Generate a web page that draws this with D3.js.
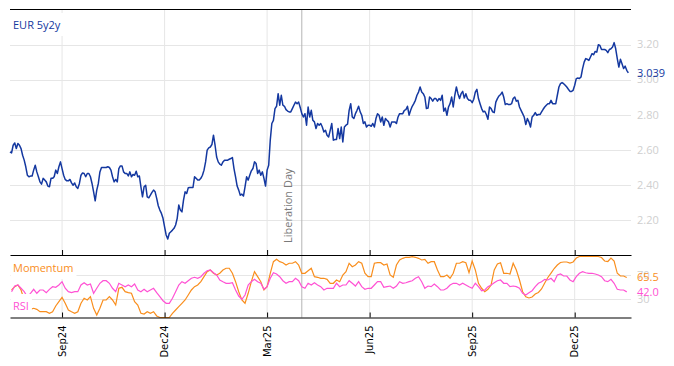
<!DOCTYPE html>
<html>
<head>
<meta charset="utf-8">
<script src="https://cdn.jsdelivr.net/npm/d3@7"></script>
<style>
  html, body { margin: 0; padding: 0; background: #fff; }
  svg { display: block; font-family: "Open Sans", sans-serif; }
</style>
</head>
<body>
<svg id="chart" width="674" height="366"></svg>
<script>
// data: one value per weekday from startDate (oscillators: every second weekday)
const startDate = '2024-07-17';

const eur5y2y = [
  2.588,
  2.582, 2.626, 2.639, 2.607, 2.636, 2.626, 2.607, 2.569, 2.541, 2.503, 2.455, 2.446, 2.450, 2.450, 2.484, 2.512, 2.474, 2.446, 2.417, 2.404,
  2.437, 2.427, 2.417, 2.393, 2.389, 2.437, 2.437, 2.446, 2.484, 2.465, 2.503, 2.531, 2.493, 2.455, 2.431, 2.423, 2.423, 2.431, 2.411, 2.398,
  2.411, 2.389, 2.380, 2.408, 2.455, 2.468, 2.465, 2.446, 2.465, 2.465, 2.446, 2.408, 2.360, 2.309, 2.370, 2.408, 2.474, 2.499, 2.499, 2.499,
  2.499, 2.503, 2.499, 2.484, 2.446, 2.417, 2.431,
  2.417, 2.493, 2.508, 2.508, 2.474, 2.465, 2.465, 2.451, 2.474, 2.446, 2.459, 2.455, 2.478, 2.446, 2.451, 2.389, 2.332, 2.389, 2.398, 2.332,
  2.326, 2.341, 2.357, 2.370, 2.360, 2.323, 2.281, 2.256, 2.237, 2.209, 2.161, 2.114, 2.091, 2.124, 2.133, 2.142, 2.152, 2.171, 2.209, 2.285,
  2.256, 2.246, 2.313, 2.360, 2.351, 2.383, 2.385, 2.385, 2.385, 2.446, 2.437, 2.427, 2.427, 2.437, 2.455, 2.484, 2.531, 2.598, 2.611, 2.616,
  2.630, 2.683, 2.626, 2.559, 2.531,
  2.518, 2.512, 2.531, 2.541, 2.541, 2.541, 2.546, 2.550, 2.556, 2.493, 2.446, 2.393, 2.370, 2.341, 2.347, 2.336, 2.389, 2.446, 2.427, 2.455,
  2.480, 2.493, 2.531, 2.522, 2.465, 2.484, 2.455, 2.474, 2.437, 2.393, 2.484, 2.512, 2.655, 2.750, 2.768, 2.835, 2.848, 2.920, 2.854, 2.911,
  2.854, 2.848, 2.829, 2.821, 2.816, 2.816, 2.835, 2.854, 2.872, 2.863, 2.872, 2.841, 2.806, 2.787, 2.806, 2.740, 2.844, 2.787, 2.825, 2.768,
  2.759, 2.721, 2.750, 2.740, 2.750, 2.730,
  2.702, 2.711, 2.683, 2.673, 2.711, 2.750, 2.655, 2.659, 2.659, 2.721, 2.664, 2.730, 2.645, 2.730, 2.740, 2.746, 2.825, 2.863, 2.787, 2.778,
  2.806, 2.825, 2.848, 2.816, 2.797, 2.750, 2.759, 2.730, 2.740, 2.740, 2.734, 2.750, 2.730, 2.778, 2.806, 2.797, 2.759, 2.787, 2.740, 2.778,
  2.768, 2.759, 2.730, 2.759, 2.759, 2.759, 2.750, 2.787, 2.806, 2.806, 2.806, 2.825, 2.829, 2.848, 2.797, 2.825, 2.848, 2.863, 2.882, 2.911,
  2.929, 2.958, 2.929, 2.920, 2.901, 2.835,
  2.838, 2.901, 2.892, 2.877, 2.892, 2.892, 2.877, 2.892, 2.882, 2.911, 2.820, 2.838, 2.797, 2.844, 2.863, 2.901, 2.844, 2.911, 2.958, 2.920,
  2.892, 2.920, 2.933, 2.895, 2.920, 2.892, 2.882, 2.882, 2.869, 2.888, 2.929, 2.945, 2.892, 2.863, 2.835, 2.816, 2.820, 2.801, 2.774, 2.844,
  2.835, 2.816, 2.812, 2.872, 2.892, 2.907, 2.915, 2.929, 2.901, 2.858, 2.863, 2.858, 2.858, 2.863, 2.892, 2.901, 2.877, 2.882, 2.844, 2.825,
  2.806, 2.787, 2.744, 2.778, 2.759, 2.730,
  2.787, 2.797, 2.812, 2.797, 2.801, 2.801, 2.816, 2.831, 2.844, 2.854, 2.863, 2.863, 2.882, 2.863, 2.863, 2.863, 2.911, 2.958, 2.977, 2.983,
  2.977, 2.968, 2.958, 2.945, 2.933, 2.933, 2.939, 2.968, 3.006, 3.009, 3.006, 3.015, 3.063, 3.100, 3.120, 3.116, 3.110, 3.129, 3.148, 3.142,
  3.161, 3.157, 3.199, 3.195, 3.172, 3.172, 3.172, 3.167, 3.154, 3.172, 3.176, 3.186, 3.211, 3.176, 3.120, 3.072, 3.116, 3.091, 3.063, 3.077,
  3.053, 3.039
];

const momentum = [
  45.1, 50.5, 53.3, 45.1, 28.7, 15.1, 13.4, 15.1, 13.4, 9.5, 9.5, 9.5, 6.9, 9.5, 18.9, 25.9, 33.0, 23.3, 12.3, 9.5,
  6.9, 9.5, 23.3, 31.5, 28.7, 34.1, 15.1, 4.1, 15.1, 28.7, 28.7, 34.1, 28.7, 20.5, 47.9, 49.5, 42.3, 40.7, 39.7, 25.9,
  20.5, 6.9, 5.7, 9.5, 6.9, 9.5, 2.5, 0, 0, 0, 0, 6.9, 12.3, 17.7, 23.3, 28.7, 36.9, 45.1, 50.5, 53.3,
  58.7, 66.9, 75.1, 77.9, 72.5, 69.7, 72.5, 77.9, 80.7, 80.7, 72.5, 58.7, 42.3, 28.7, 23.3, 39.7, 58.7, 75.1, 66.9, 58.7,
  45.1, 50.5, 72.5, 91.5, 95.4, 91.5, 89.8, 86.1, 88.9, 88.9, 91.5, 86.1, 72.5, 72.5, 76.7, 80.7, 66.9, 65.9, 64.3, 64.3,
  62.6,
  56.1, 56.1, 61.5, 58.7, 69.7, 75.1, 88.9, 83.3, 86.1, 91.5, 88.9, 72.5, 66.9, 66.9, 88.9, 89.8, 89.8, 86.1, 87.7, 69.7,
  65.9, 86.1, 94.3, 97.0, 98.7, 98.7, 99.7, 98.7, 97.0, 94.3, 95.4, 88.9, 91.5, 91.5, 77.9, 66.9, 66.9, 69.7, 64.3, 72.5,
  88.9, 88.9, 91.5, 89.8, 73.4, 92.6, 77.9, 56.1, 47.9, 42.3, 46.2, 53.3, 77.9, 87.7, 89.8, 72.5, 72.5, 71.3, 88.9, 77.9,
  61.5, 42.3, 34.1, 32.0, 33.6, 38.5, 41.0, 46.7, 56.6, 65.6, 72.9, 80.3, 86.1, 90.2, 91.0, 91.0, 89.3, 91.0, 97.5, 100,
  100, 100, 100, 100, 100, 100, 98.4, 92.6, 91.8, 97.5, 92.6, 72.5, 68.0, 68.0, 65.5
];

const rsi = [
  42.3, 51.6, 53.3, 47.9, 42.3, 34.1, 39.7, 46.2, 39.7, 45.1, 45.1, 40.7, 46.2, 50.5, 49.5, 53.3, 58.7, 47.9, 42.3, 40.7,
  42.3, 42.3, 53.3, 57.0, 53.3, 54.9, 39.7, 47.9, 56.1, 60.3, 60.3, 56.1, 47.9, 42.3, 56.1, 53.3, 50.5, 53.3, 50.5, 54.9,
  45.1, 42.3, 46.2, 42.3, 45.1, 47.9, 40.7, 34.1, 27.5, 23.3, 23.3, 31.5, 42.3, 53.3, 58.7, 56.1, 60.3, 64.3, 65.9, 64.3,
  66.9, 72.5, 76.7, 77.9, 73.4, 69.7, 61.5, 58.7, 56.1, 56.1, 57.0, 45.1, 35.2, 29.8, 36.9, 53.3, 58.7, 62.6, 58.7, 56.1,
  46.2, 50.5, 64.3, 73.4, 71.3, 66.9, 60.3, 56.1, 58.7, 58.7, 64.3, 60.3, 50.5, 47.9, 56.1, 53.3, 57.0, 53.3, 50.5, 45.1,
  47.9,
  47.9, 47.9, 56.1, 50.5, 53.3, 53.3, 60.3, 56.1, 51.6, 58.7, 50.5, 46.2, 47.9, 47.9, 53.3, 58.7, 58.7, 49.5, 50.5, 51.6,
  47.9, 51.6, 58.7, 56.1, 57.0, 58.7, 60.3, 64.3, 66.9, 58.7, 47.9, 51.6, 50.5, 54.9, 50.5, 45.1, 45.1, 47.9, 53.3, 56.1,
  56.1, 53.3, 56.1, 53.3, 50.5, 47.9, 56.1, 50.5, 43.9, 45.1, 50.5, 53.3, 57.0, 60.3, 61.5, 56.1, 56.1, 50.5, 51.6, 50.5,
  47.9, 39.7, 36.9, 40.7, 43.9, 50.5, 56.1, 58.7, 62.6, 61.5, 64.3, 58.7, 69.7, 71.3, 68.0, 68.0, 61.5, 58.7, 66.9, 72.5,
  75.1, 73.4, 72.5, 72.5, 71.3, 69.7, 66.9, 60.3, 58.7, 62.6, 56.1, 46.2, 45.1, 45.1, 42.0
];

const quarterTicks = ['Sep24', 'Dec24', 'Mar25', 'Jun25', 'Sep25', 'Dec25'];
const priceTicks = [2.2, 2.4, 2.6, 2.8, 3.0, 3.2];
const oscTicks = [30, 70];
const eventDates = ['2025-04-02'];
const eventLabels = ['Liberation Day'];

// colours
const BLUE = '#1438a0';
const ORANGE = '#f98e1d';
const PINK = '#ff52d4';
const GRID = '#e6e6e6';
const AXIS_TXT = '#cfcfcf';

// business day calendar
const parseDate = d3.timeParse('%Y-%m-%d');
function weekdays(from, n) {
  const out = [];
  let d = parseDate(from);
  while (out.length < n) {
    const wd = d.getDay();
    if (wd !== 0 && wd !== 6) out.push(d);
    d = d3.timeDay.offset(d, 1);
  }
  return out;
}
const days = weekdays(startDate, eur5y2y.length);
const dayIndex = date => days.findIndex(d => d >= date);

const svg = d3.select('#chart');

const x = d3.scaleLinear().domain([0, days.length + 0.7]).range([10, 631]);
const y = d3.scaleLinear().domain([2.0, 3.4]).range([255, 9.5]);
const yOsc = d3.scaleLinear().domain([0, 100]).range([317.5, 256.5]);
const panelTop = 9.5, panelMid = 255, panelBot = 317.5;

const parseTick = d3.timeParse('%b%y');
const tickIdx = quarterTicks.map(t => dayIndex(parseTick(t)));

// grid
const grid = svg.append('g');
grid.selectAll('line.v')
  .data(tickIdx)
  .enter()
  .append('line')
  .attr('x1', d => x(d)).attr('x2', d => x(d))
  .attr('y1', panelTop).attr('y2', panelBot)
  .attr('stroke', GRID);

grid.selectAll('line.hp')
  .data(priceTicks)
  .enter()
  .append('line')
  .attr('x1', x.range()[0]).attr('x2', x.range()[1])
  .attr('y1', d => Math.round(y(d)) + 0.5).attr('y2', d => Math.round(y(d)) + 0.5)
  .attr('stroke', GRID);

grid.selectAll('line.ho')
  .data(oscTicks)
  .enter()
  .append('line')
  .attr('x1', x.range()[0]).attr('x2', x.range()[1])
  .attr('y1', d => Math.round(yOsc(d)) + 0.5).attr('y2', d => Math.round(yOsc(d)) + 0.5)
  .attr('stroke', GRID);

// event marker
const evIdx = eventDates.map(d => dayIndex(parseDate(d)));
svg.selectAll('line.event')
  .data(evIdx)
  .enter()
  .append('line')
  .attr('x1', d => x(d)).attr('x2', d => x(d))
  .attr('y1', panelTop).attr('y2', panelBot)
  .attr('stroke', '#b4b4b4');

svg.selectAll('text.event')
  .data(evIdx)
  .enter()
  .append('text')
  .attr('transform', d => `translate(${x(d) - 10},243) rotate(-90)`)
  .attr('font-size', 11)
  .attr('fill', '#7a7a7a')
  .text((d, i) => eventLabels[i]);

// series
const priceLine = d3.line()
  .x((d, i) => x(i))
  .y(d => y(d));

svg.append('path')
  .datum(eur5y2y)
  .attr('fill', 'none')
  .attr('stroke', BLUE)
  .attr('stroke-width', 1.5)
  .attr('stroke-linejoin', 'round')
  .attr('d', priceLine);

const oscLine = d3.line()
  .x((d, i) => x(2 * i + 1))
  .y(d => yOsc(d));

svg.append('path')
  .datum(momentum)
  .attr('fill', 'none')
  .attr('stroke', ORANGE)
  .attr('stroke-width', 1.2)
  .attr('d', oscLine);

svg.append('path')
  .datum(rsi)
  .attr('fill', 'none')
  .attr('stroke', PINK)
  .attr('stroke-width', 1.2)
  .attr('d', oscLine);

// frames and ticks
svg.append('line')
  .attr('x1', x.range()[0]).attr('x2', x.range()[1])
  .attr('y1', panelTop).attr('y2', panelTop)
  .attr('stroke', '#000').attr('stroke-width', 1.2);

const topAxis = d3.axisBottom(x)
  .tickValues(tickIdx)
  .tickSizeInner(-5)
  .tickSizeOuter(0)
  .tickFormat('');

svg.append('g')
  .attr('transform', `translate(0,${panelMid})`)
  .call(topAxis)
  .call(g => g.select('.domain').attr('stroke-width', 1.2));

const botAxis = d3.axisBottom(x)
  .tickValues(tickIdx)
  .tickSizeInner(-5)
  .tickSizeOuter(0)
  .tickFormat((d, i) => quarterTicks[i]);

svg.append('g')
  .attr('transform', `translate(0,${panelBot})`)
  .call(botAxis)
  .call(g => g.select('.domain').attr('stroke-width', 1.2))
  .call(g => g.selectAll('text')
    .attr('transform', 'rotate(-90)')
    .attr('text-anchor', 'end')
    .attr('x', -8)
    .attr('y', 0)
    .attr('dy', '0.3em')
    .attr('font-family', '"DejaVu Sans", sans-serif')
    .attr('font-size', 10)
    .attr('fill', '#000'));

// right-hand tick labels
svg.selectAll('text.py')
  .data(priceTicks)
  .enter()
  .append('text')
  .attr('x', 637)
  .attr('y', d => y(d))
  .attr('dy', '0.35em')
  .attr('font-size', 11)
  .attr('fill', AXIS_TXT)
  .text(d => d3.format('.2f')(d));

svg.selectAll('text.oy')
  .data(oscTicks)
  .enter()
  .append('text')
  .attr('x', 637)
  .attr('y', d => yOsc(d))
  .attr('dy', '0.35em')
  .attr('font-size', 11)
  .attr('fill', AXIS_TXT)
  .text(d => d);

// last values
const lastLabels = [
  { v: y(eur5y2y[eur5y2y.length - 1]), t: d3.format('.3f')(eur5y2y[eur5y2y.length - 1]), c: BLUE },
  { v: yOsc(momentum[momentum.length - 1]), t: d3.format('.1f')(momentum[momentum.length - 1]), c: ORANGE },
  { v: yOsc(rsi[rsi.length - 1]), t: d3.format('.1f')(rsi[rsi.length - 1]), c: PINK }
];
svg.selectAll('text.last')
  .data(lastLabels)
  .enter()
  .append('text')
  .attr('x', 637)
  .attr('y', d => d.v)
  .attr('dy', '0.35em')
  .attr('font-size', 11)
  .attr('fill', d => d.c)
  .text(d => d.t);

// series titles on white boxes
function title(txt, tx, ty, color) {
  const g = svg.append('g');
  const rect = g.append('rect').attr('fill', '#fff');
  const t = g.append('text')
    .attr('x', tx).attr('y', ty)
    .attr('font-size', 11)
    .attr('fill', color)
    .text(txt);
  const b = t.node().getBBox();
  rect.attr('x', 10.5).attr('y', b.y - 4)
    .attr('width', b.x + b.width + 3 - 10.5)
    .attr('height', b.height + 8);
}
title('EUR 5y2y', 13, 29, BLUE);
title('Momentum', 13, 272, ORANGE);
title('RSI', 13, 310, PINK);
</script>
</body>
</html>
